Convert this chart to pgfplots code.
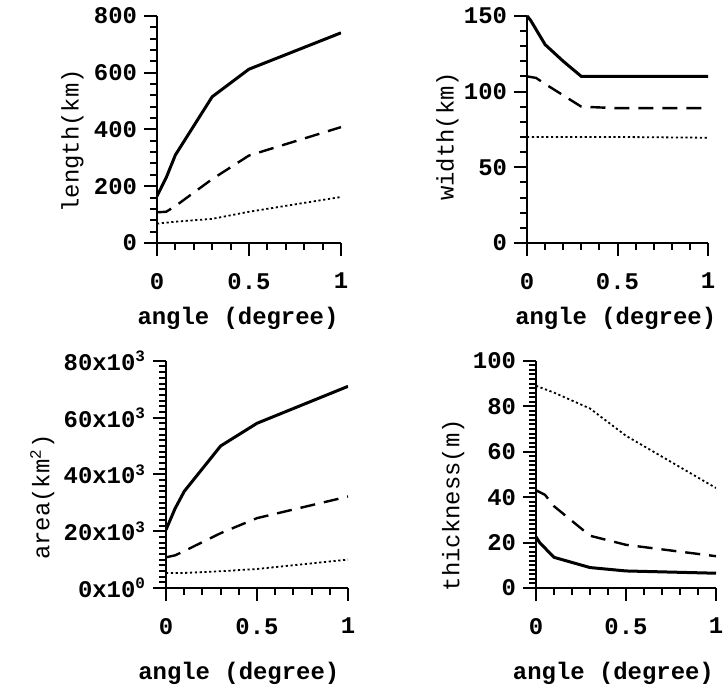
\documentclass[border=0pt]{standalone}
\usepackage{pgfplots}
\pgfplotsset{compat=1.18}
\usepackage{fontspec}
\setmainfont{Liberation Mono}

\newcommand{\lblfont}{\fontsize{12}{14}\selectfont}

\pgfplotsset{
  panel/.style={
    scale only axis,
    height=113.6bp,
    xmin=0, xmax=1, ymin=0,
    axis x line=bottom, axis y line=left,
    axis line style={-, line width=1.3bp},
    xtick={0,0.5,1},
    minor xtick={0.1,0.2,0.3,0.4,0.6,0.7,0.8,0.9},
    tick align=outside,
    major tick length=6.5bp,
    minor tick length=3.5bp,
    every tick/.style={black, line width=1bp},
    tick label style={font=\lblfont\bfseries},
    xticklabel style={yshift=-5bp},
    /pgf/number format/assume math mode=true,
    xlabel={angle (degree)},
    xlabel style={font=\lblfont\bfseries},
    ylabel style={font=\lblfont},
  },
  solid line/.style={black, line width=1.5bp},
  dashed line/.style={black, line width=1.2bp, dash pattern=on 7.5bp off 4.5bp},
  dotted line/.style={black, line width=0.9bp, dash pattern=on 1.1bp off 1.3bp},
}

\begin{document}
\begin{tikzpicture}
  \useasboundingbox (0,0) rectangle (363bp,345.5bp);

  % --- length ---
  \begin{axis}[panel,
    at={(78.5bp,224bp)}, anchor=origin, width=92bp,
    ymax=800, ytick={0,200,400,600,800}, minor y tick num=4,
    ylabel={length(km)},
    xlabel style={at={(axis description cs:0.44,0)}, anchor=center, yshift=-37.5bp},
    ylabel style={at={(axis description cs:-0.46,0.45)}, anchor=center},
  ]
    \addplot[solid line] coordinates {
      (0,165) (0.05,230) (0.1,310) (0.3,515) (0.5,612) (1,740)
    };
    \addplot[dashed line] coordinates {
      (0,108) (0.05,110) (0.1,130) (0.3,225) (0.5,308) (1,408)
    };
    \addplot[dotted line] coordinates {
      (0,68) (0.1,75) (0.3,85) (0.5,110) (1,162)
    };
  \end{axis}

  % --- width ---
  \begin{axis}[panel,
    at={(263.5bp,224bp)}, anchor=origin, width=90.5bp,
    ymax=150, ytick={0,50,100,150}, minor y tick num=4,
    ylabel={width(km)},
    xlabel style={at={(axis description cs:0.49,0)}, anchor=center, yshift=-37.5bp},
    ylabel style={at={(axis description cs:-0.44,0.47)}, anchor=center},
  ]
    \addplot[solid line] coordinates {
      (0,150) (0.02,147) (0.1,131) (0.2,120) (0.3,110) (1,110)
    };
    \addplot[dashed line] coordinates {
      (0,110) (0.05,109) (0.1,105) (0.3,90) (0.5,89) (1,89)
    };
    \addplot[dotted line] coordinates {
      (0,70) (0.5,70) (1,69.5)
    };
  \end{axis}

  % --- area (values in 10^3 km^2) ---
  \begin{axis}[panel,
    at={(83bp,51.5bp)}, anchor=origin, width=91bp,
    ymax=80, ytick={0,20,40,60,80}, minor y tick num=9,
    yticklabels={0x10\textsuperscript{0},20x10\textsuperscript{3},40x10\textsuperscript{3},60x10\textsuperscript{3},80x10\textsuperscript{3}},
    ylabel={area(km\textsuperscript{2})},
    xlabel style={at={(axis description cs:0.40,0)}, anchor=center, yshift=-42.5bp},
    ylabel style={at={(axis description cs:-0.68,0.40)}, anchor=center},
  ]
    \addplot[solid line] coordinates {
      (0,20.5) (0.05,28) (0.1,34) (0.3,50) (0.5,58) (1,71)
    };
    \addplot[dashed line] coordinates {
      (0,10.8) (0.05,11.5) (0.1,13) (0.3,19.3) (0.5,24.6) (1,32.2)
    };
    \addplot[dotted line] coordinates {
      (0,5.3) (0.1,5.3) (0.3,5.9) (0.5,6.7) (1,10)
    };
  \end{axis}

  % --- thickness ---
  \begin{axis}[panel,
    at={(268bp,51.5bp)}, anchor=origin, width=90bp,
    ymax=100, ytick={0,20,40,60,80,100}, minor y tick num=9,
    ylabel={thickness(m)},
    xlabel style={at={(axis description cs:0.43,0)}, anchor=center, yshift=-42.5bp},
    ylabel style={at={(axis description cs:-0.46,0.365)}, anchor=center},
  ]
    \addplot[solid line] coordinates {
      (0,22.5) (0.02,20) (0.1,13.5) (0.3,9) (0.5,7.5) (1,6.5)
    };
    \addplot[dashed line] coordinates {
      (0,43) (0.05,41) (0.1,36) (0.3,23) (0.5,19) (1,14)
    };
    \addplot[dotted line] coordinates {
      (0,89) (0.1,86) (0.3,79) (0.5,67) (1,44)
    };
  \end{axis}
\end{tikzpicture}
\end{document}
